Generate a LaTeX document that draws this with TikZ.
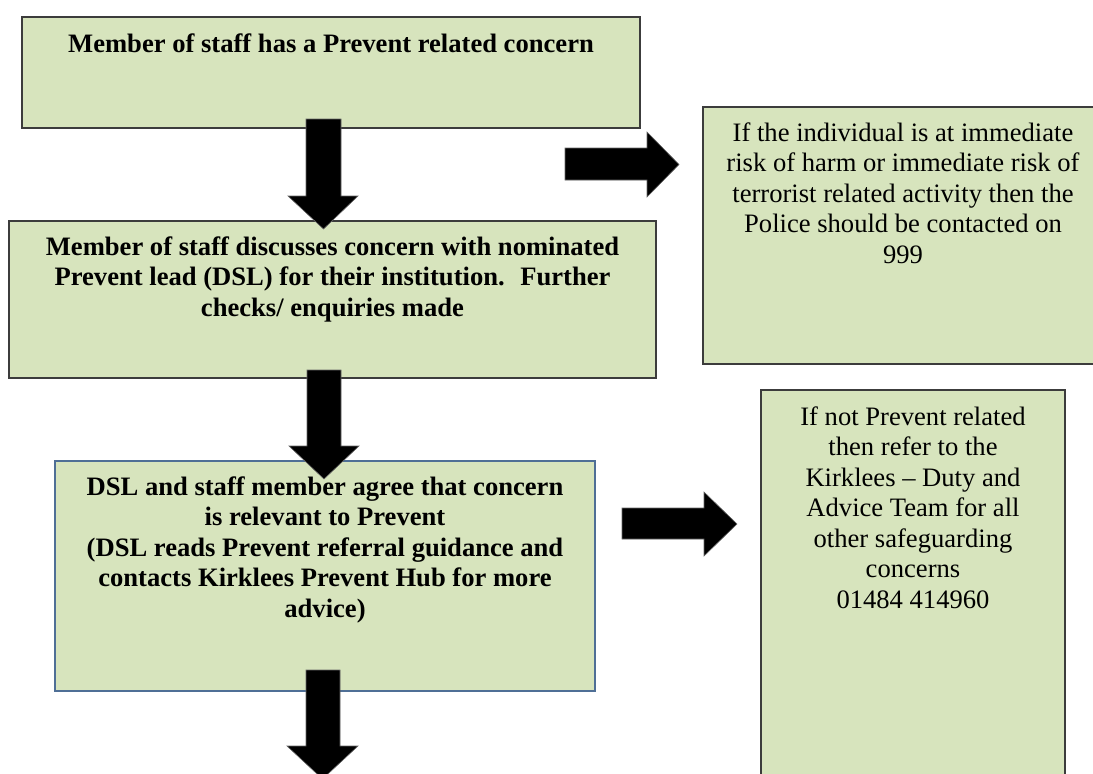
\documentclass[tikz,border=0pt]{standalone}
\usepackage{fontspec}
\setmainfont{Liberation Serif}
\definecolor{boxfill}{HTML}{D7E4BD}
\definecolor{boxline}{HTML}{3C3C3C}
\definecolor{blueline}{HTML}{4F6F96}
\begin{document}
\begin{tikzpicture}[x=1pt,y=-1pt,
  box/.style={draw=boxline,line width=1.4pt,fill=boxfill,inner sep=0pt,outer sep=0pt,anchor=north west},
  bluebox/.style={box,draw=blueline,line width=1.1pt},
  txt/.style={anchor=base,align=center,inner sep=0pt,font=\fontsize{26.6}{30.5}\selectfont},
  btxt/.style={txt,font=\fontsize{26.6}{30.5}\selectfont\bfseries},
  blockarrow/.style={fill=black,draw=black!60,line width=0.6pt}]
\useasboundingbox (0,0) rectangle (1093,774);
\begin{scope}
\clip (0,0) rectangle (1093,774);
% boxes
\node[box,minimum width=618,minimum height=111] (b1) at (22,17) {};
\node[box,minimum width=647,minimum height=157] (b2) at (9,221) {};
\node[bluebox,minimum width=540,minimum height=230] (b3) at (55,461) {};
\node[box,minimum width=400,minimum height=257] (p) at (703,107) {};
\node[box,minimum width=304,minimum height=400] (k) at (761,390) {};
% texts (anchor base = baseline of last line)
\node[btxt] (t1) at (331,52) {Member of staff has a Prevent related concern};
\node[btxt] (t2) at (332.5,316) {Member of staff discusses concern with nominated\\Prevent lead (DSL) for their institution.~ Further\\checks/ enquiries made};
\node[btxt] (t3) at (325,617) {DSL and staff member agree that concern\\is relevant to Prevent\\(DSL reads Prevent referral guidance and\\contacts Kirklees Prevent Hub for more\\advice)};
\node[txt] (tp) at (903,263) {If the individual is at immediate\\risk of harm or immediate risk of\\terrorist related activity then the\\Police should be contacted on\\999};
\node[txt] (tk) at (913,608) {If not Prevent related\\then refer to the\\Kirklees -- Duty and\\Advice Team for all\\other safeguarding\\concerns\\01484 414960};
% block arrows
\draw[blockarrow] (306,119) -- (341,119) -- (341,196) -- (358,196) -- (323.5,229) -- (288,196) -- (306,196) -- cycle;
\draw[blockarrow] (307,370) -- (341,370) -- (341,446) -- (359,446) -- (324,479) -- (289,446) -- (307,446) -- cycle;
\draw[blockarrow] (306,670) -- (340,670) -- (340,746) -- (358,746) -- (322.5,779) -- (287,746) -- (306,746) -- cycle;
\draw[blockarrow] (565,148) -- (647,148) -- (647,132) -- (679,164.5) -- (647,197) -- (647,180) -- (565,180) -- cycle;
\draw[blockarrow] (622,508) -- (704,508) -- (704,492) -- (737,524) -- (704,556) -- (704,539) -- (622,539) -- cycle;
\end{scope}
\end{tikzpicture}
\end{document}
